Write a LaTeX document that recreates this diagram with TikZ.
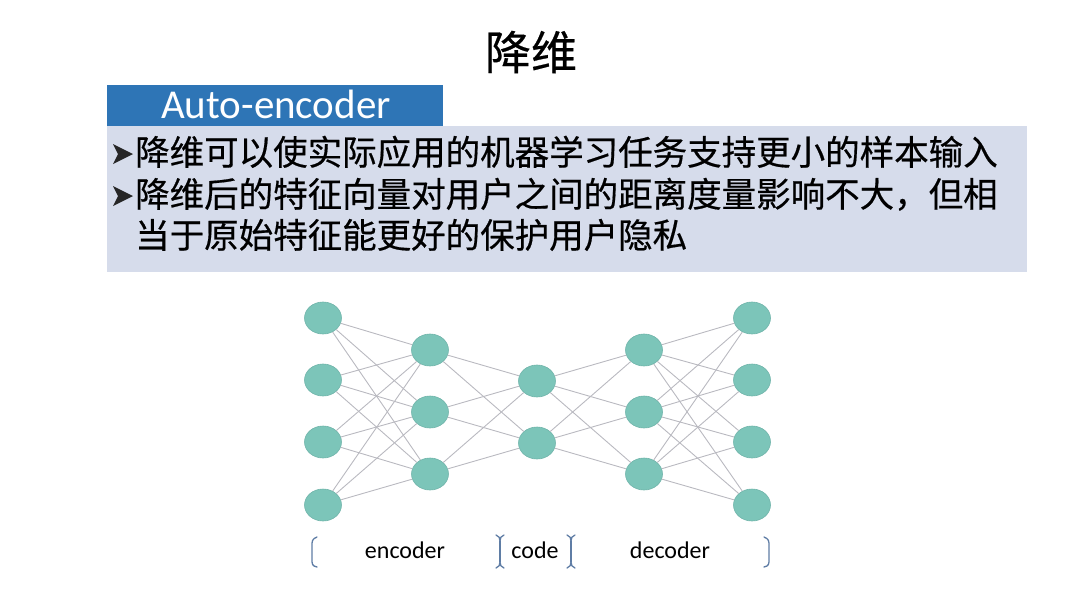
\documentclass[tikz,border=0pt]{standalone}
\usepackage{fontspec}
\setmainfont{Carlito}
\newfontfamily\cjk[FakeBold=0.5]{Noto Sans CJK SC}
\usetikzlibrary{shapes.geometric}
\definecolor{headblue}{RGB}{46,117,182}
\definecolor{boxgray}{RGB}{214,220,235}
\definecolor{neuronfill}{RGB}{124,197,185}
\definecolor{neuronline}{RGB}{112,180,170}
\definecolor{edgegray}{RGB}{185,185,192}
\definecolor{bracketblue}{RGB}{95,125,165}
\tikzset{
  neuron/.style={ellipse, fill=neuronfill, draw=neuronline, line width=0.6pt,
    minimum width=37pt, minimum height=32pt, inner sep=0pt},
  link/.style={draw=edgegray, line width=0.9pt},
  bullettext/.style={anchor=base west, inner sep=0pt, font=\cjk\fontsize{34.5}{38}\selectfont},
  brace/.style={draw=bracketblue, line width=1.3pt, line cap=round},
  arrowmark/.pic={\fill[black!85] (0,-10) -- (20,0) -- (0,10) -- (5,0) -- cycle;}
}
\begin{document}
\begin{tikzpicture}[x=1pt,y=-1pt]
    \useasboundingbox (0,0) rectangle (1080,598);
    % title and header bar
    \node[font=\cjk\fontsize{46}{50}\selectfont] (title) at (531,52) {降维};
    \fill[headblue] (107,85) rectangle (443,126);
    \node[white, font=\fontsize{41}{44}\selectfont] (head) at (276,104) {Auto-encoder};
    \fill[boxgray] (107,126) rectangle (1027,272);
    % bullet lines
    \pic at (113,154) {arrowmark};
    \pic at (113,196) {arrowmark};
    \node[bullettext] (line1) at (135,165) {降维可以使实际应用的机器学习任务支持更小的样本输入};
    \node[bullettext] (line2) at (135,207) {降维后的特征向量对用户之间的距离度量影响不大，但相};
    \node[bullettext] (line3) at (135,248) {当于原始特征能更好的保护用户隐私};
    % neurons
    \foreach \i/\y in {1/318,2/380,3/442,4/505} {
        \node[neuron] (in\i) at (323,\y) {};
        \node[neuron] (out\i) at (752,\y) {};
    }
    \foreach \i/\y in {1/350,2/412,3/474} {
        \node[neuron] (enc\i) at (430,\y) {};
        \node[neuron] (dec\i) at (644,\y) {};
    }
    \foreach \i/\y in {1/381,2/443}
        \node[neuron] (code\i) at (537,\y) {};
    % connections
    \foreach \a in {1,...,4}
        \foreach \b in {1,...,3} {
            \draw[link] (in\a) -- (enc\b);
            \draw[link] (dec\b) -- (out\a);
        }
    \foreach \a in {1,...,3}
        \foreach \b in {1,2} {
            \draw[link] (enc\a) -- (code\b);
            \draw[link] (code\b) -- (dec\a);
        }
    % labels
    \node[font=\fontsize{24}{26}\selectfont] (enclabel) at (405,550) {encoder};
    \node[font=\fontsize{24}{26}\selectfont] (codelabel) at (535,550) {code};
    \node[font=\fontsize{24}{26}\selectfont] (declabel) at (670,550) {decoder};
    % brackets
    \draw[brace] (317,537) .. controls (312,539) and (312,541) .. (312,546) -- (312,559)
        .. controls (312,564) and (312,566) .. (317,567);
    \foreach \x in {500,571} {
        \draw[brace] (\x-4,535) .. controls (\x-1,536) and (\x,538) .. (\x,541)
            .. controls (\x,538) and (\x+1,536) .. (\x+4,535);
        \draw[brace] (\x,541) -- (\x,562);
        \draw[brace] (\x-4,568) .. controls (\x-1,567) and (\x,565) .. (\x,562)
            .. controls (\x,565) and (\x+1,567) .. (\x+4,568);
    }
    \draw[brace] (764,537) .. controls (769,539) and (769,541) .. (769,546) -- (769,559)
        .. controls (769,564) and (769,566) .. (764,567);
\end{tikzpicture}
\end{document}
